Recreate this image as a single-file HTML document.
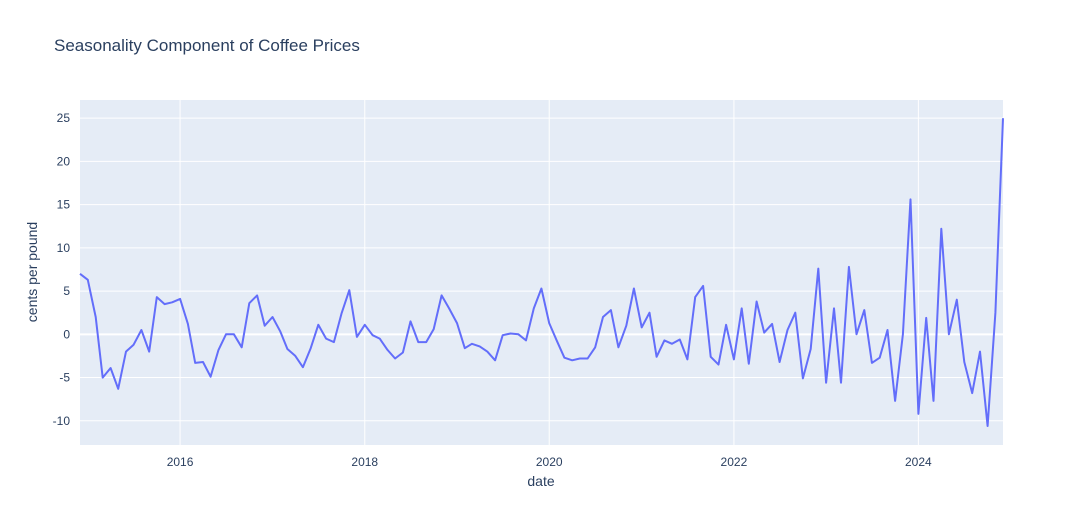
<!DOCTYPE html>
<html><head><meta charset="utf-8"><style>
body{margin:0;background:#fff;font-family:"Liberation Sans",Arial,sans-serif}
svg text{font-family:"Liberation Sans",Arial,sans-serif;fill:#2a3f5f}
</style></head><body>
<svg id="chart" width="1083" height="525">
<rect x="0" y="0" width="1083" height="525" fill="#fff"/>
<rect x="80" y="100" width="923" height="345" fill="#e5ecf6"/>
<g id="grid"></g>
<g id="xt"></g><g id="yt"></g>
<path id="line" fill="none" stroke="#636efa" stroke-width="2" stroke-linejoin="round"/>
<text x="54" y="51" font-size="17">Seasonality Component of Coffee Prices</text>
<text x="541" y="486" font-size="14" text-anchor="middle">date</text>
<text x="37" y="272" font-size="14" text-anchor="middle" transform="rotate(-90 37 272)">cents per pound</text>
</svg>
<script>
const startYear = 2014, startMonth = 11; // Dec 2014
const values = [7.0,6.3,2.0,-5.0,-3.9,-6.3,-2.0,-1.2,0.5,-2.0,
4.3,3.5,3.7,4.1,1.2,-3.3,-3.2,-4.9,-1.8,0.0,
0.0,-1.5,3.6,4.5,1.0,2.0,0.3,-1.7,-2.5,-3.8,
-1.6,1.1,-0.5,-0.9,2.4,5.1,-0.3,1.1,-0.1,-0.5,
-1.8,-2.8,-2.1,1.5,-0.9,-0.9,0.6,4.5,3.0,1.3,
-1.6,-1.1,-1.4,-2.0,-3.0,-0.1,0.1,0.0,-0.7,3.0,
5.3,1.3,-0.8,-2.7,-3.0,-2.8,-2.8,-1.5,2.0,2.8,
-1.5,1.0,5.3,0.8,2.5,-2.6,-0.7,-1.1,-0.6,-2.9,
4.3,5.6,-2.6,-3.5,1.1,-2.9,3.0,-3.4,3.8,0.2,
1.2,-3.2,0.5,2.5,-5.1,-1.7,7.6,-5.6,3.0,-5.6,
7.8,0.0,2.8,-3.3,-2.7,0.5,-7.7,0.0,15.6,-9.2,
1.9,-7.7,12.2,0.0,4.0,-3.2,-6.8,-2.0,-10.6,2.5,
25.0];
const yTicks = [-10,-5,0,5,10,15,20,25];
const xTickYears = [2016,2018,2020,2022,2024];

const NS="http://www.w3.org/2000/svg";
const dates = values.map((v,i)=>Date.UTC(startYear,startMonth+i,1));
const t0=dates[0], t1=dates[dates.length-1];
const X0=80,X1=1003,Y0=445,Y1=100;
const yMin=-12.8, yMax=27.1;
const xs=t=>X0+(t-t0)/(t1-t0)*(X1-X0);
const ys=v=>Y0-(v-yMin)/(yMax-yMin)*(Y0-Y1);
const grid=document.getElementById('grid'), xt=document.getElementById('xt'), yt=document.getElementById('yt');
yTicks.forEach(v=>{
  const y=ys(v);
  const l=document.createElementNS(NS,'line');
  l.setAttribute('x1',X0);l.setAttribute('x2',X1);l.setAttribute('y1',y);l.setAttribute('y2',y);
  l.setAttribute('stroke','#fff');l.setAttribute('stroke-width',v===0?2:1);
  
  
  grid.appendChild(l);
  const t=document.createElementNS(NS,'text');
  t.setAttribute('x',70);t.setAttribute('y',y+4);t.setAttribute('text-anchor','end');t.setAttribute('font-size','12');
  t.textContent=v;
  
  
  yt.appendChild(t);
});
xTickYears.forEach(yr=>{
  const x=xs(Date.UTC(yr,0,1));
  const l=document.createElementNS(NS,'line');
  l.setAttribute('x1',x);l.setAttribute('x2',x);l.setAttribute('y1',Y1);l.setAttribute('y2',Y0);
  l.setAttribute('stroke','#fff');
  
  
  grid.appendChild(l);
  const t=document.createElementNS(NS,'text');
  t.setAttribute('x',x);t.setAttribute('y',466);t.setAttribute('text-anchor','middle');t.setAttribute('font-size','12');
  t.textContent=yr;
  
  
  xt.appendChild(t);
});
document.getElementById('line').setAttribute('d',values.map((v,i)=>(i?'L':'M')+xs(dates[i]).toFixed(1)+','+ys(v).toFixed(1)).join(''));
</script>
</body></html>
